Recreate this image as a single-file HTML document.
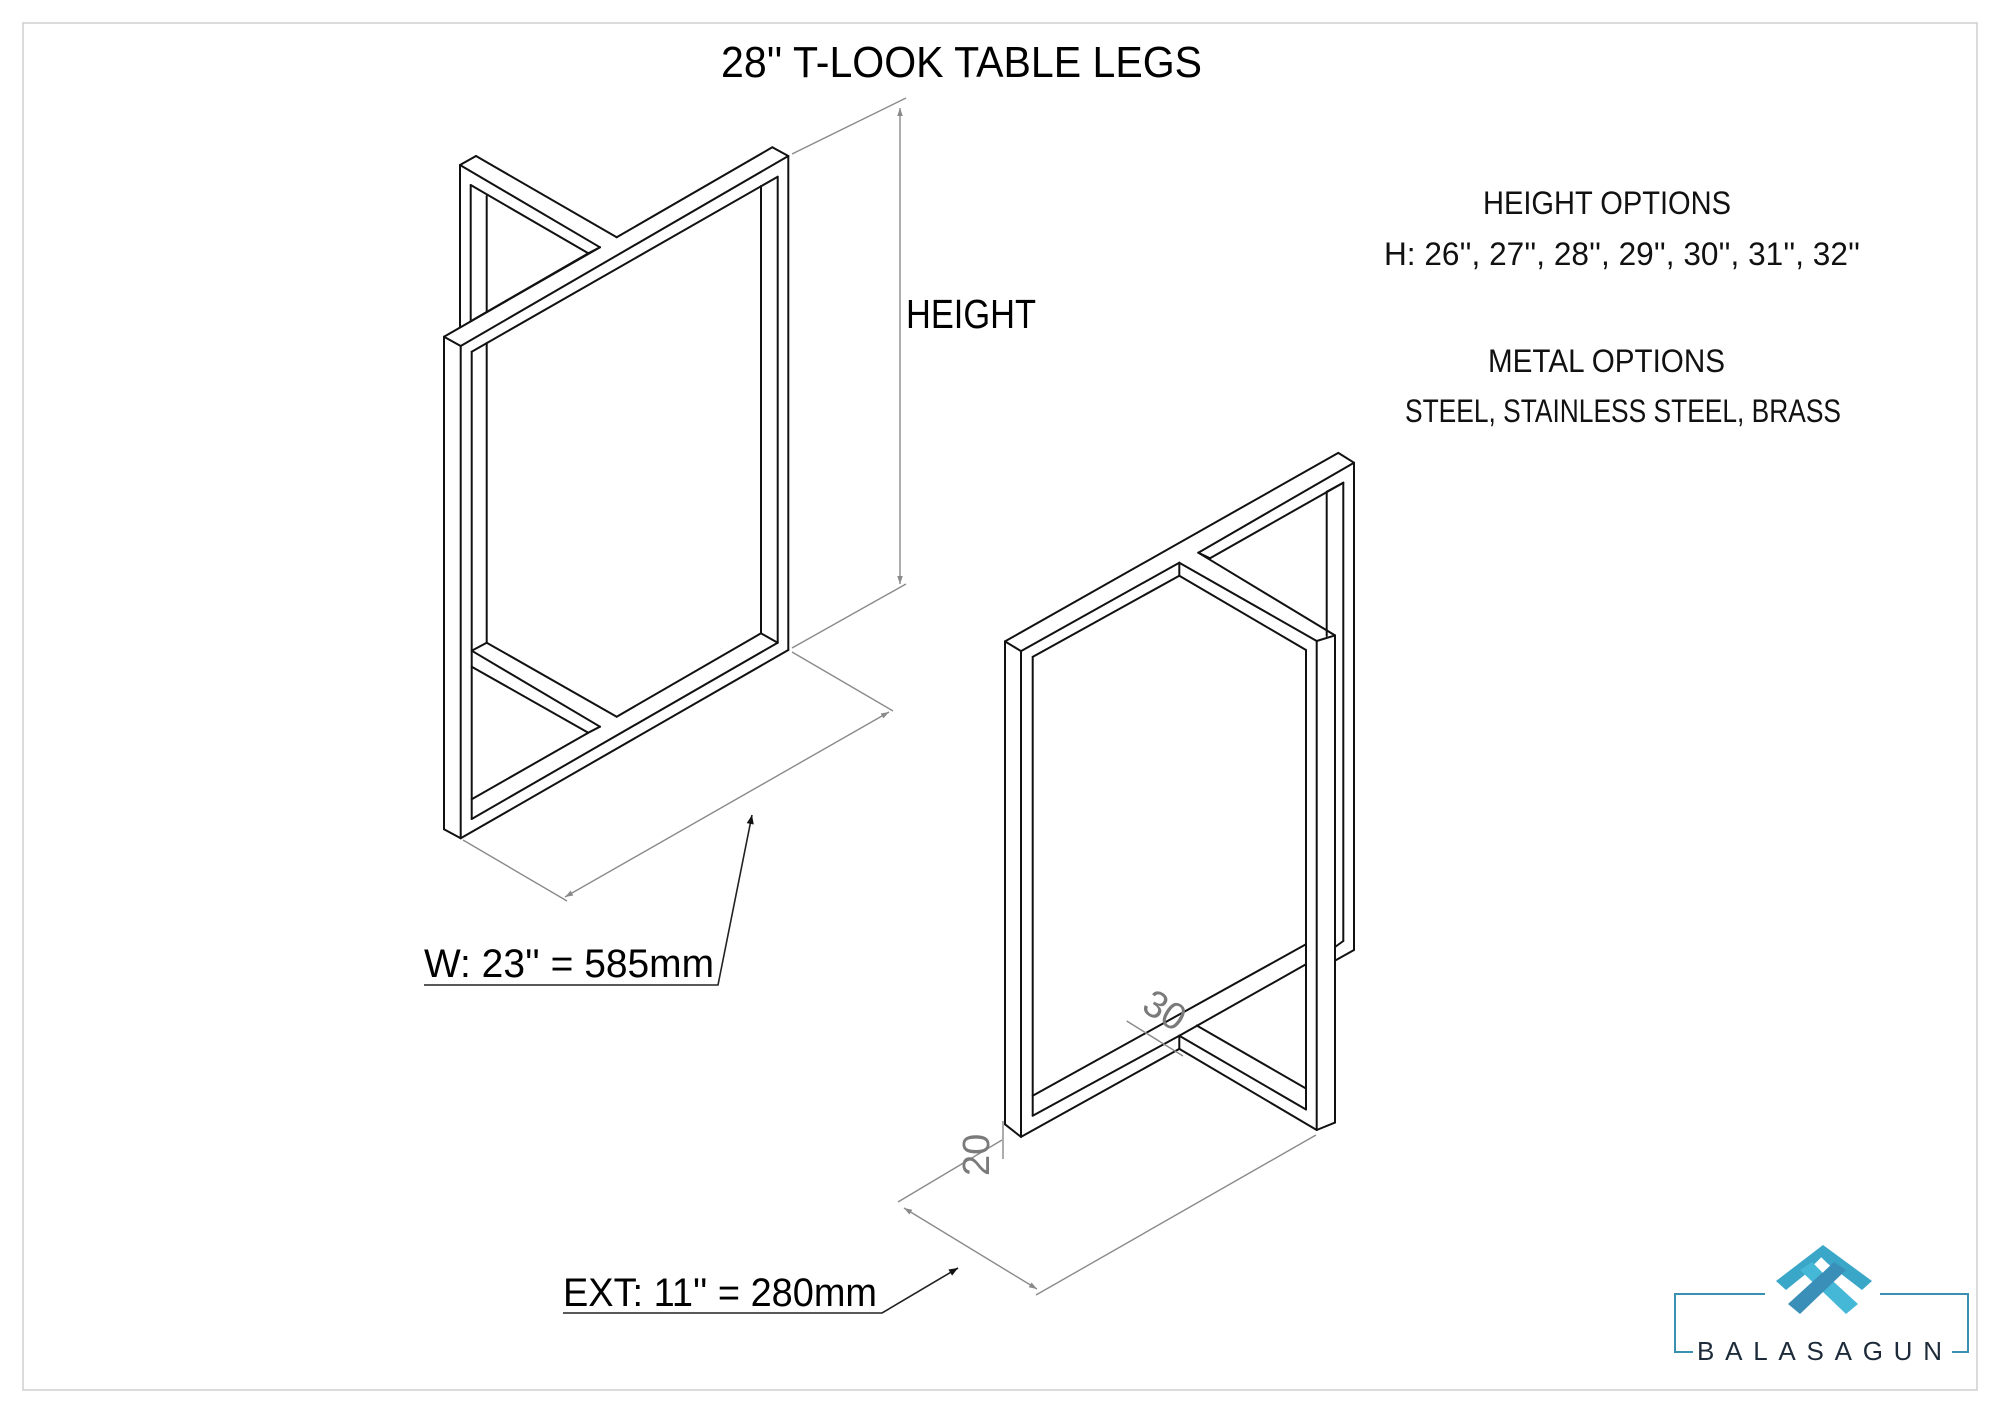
<!DOCTYPE html>
<html><head><meta charset="utf-8"><style>
html,body{margin:0;padding:0;background:#fff}
svg{display:block}
text{font-family:"Liberation Sans",sans-serif}
</style></head><body>
<svg width="2000" height="1414" viewBox="0 0 2000 1414" xmlns="http://www.w3.org/2000/svg">
<defs>
<marker id="ag" viewBox="0 0 10 10" refX="10" refY="5" markerWidth="14" markerHeight="8" markerUnits="userSpaceOnUse" orient="auto-start-reverse"><path d="M0,1.5 L10,5 L0,8.5 z" fill="#8a8a8a"/></marker>
<marker id="ak" viewBox="0 0 10 10" refX="10" refY="5" markerWidth="16" markerHeight="9" markerUnits="userSpaceOnUse" orient="auto"><path d="M0,1 L10,5 L0,9 z" fill="#111"/></marker>
</defs>
<rect x="23" y="23" width="1954" height="1367" fill="none" stroke="#cfcfcf" stroke-width="1.5"/>

<text x="721" y="77" font-size="44" textLength="481" lengthAdjust="spacingAndGlyphs">28'' T-LOOK TABLE LEGS</text>

<g font-size="32" fill="#111">
<text x="1483" y="214" textLength="248" lengthAdjust="spacingAndGlyphs">HEIGHT OPTIONS</text>
<text x="1384" y="265" textLength="476" lengthAdjust="spacingAndGlyphs">H: 26'', 27'', 28'', 29'', 30'', 31'', 32''</text>
<text x="1488" y="372" textLength="237" lengthAdjust="spacingAndGlyphs">METAL OPTIONS</text>
<text x="1405" y="422" textLength="436" lengthAdjust="spacingAndGlyphs">STEEL, STAINLESS STEEL, BRASS</text>
</g>
<text x="906" y="328" font-size="41" textLength="130" lengthAdjust="spacingAndGlyphs">HEIGHT</text>

<!-- LEG 1 -->
<g stroke="#111" stroke-width="2" fill="none" stroke-linecap="round">
<line x1="444" y1="336.7" x2="600" y2="247.3"/><line x1="616.7" y1="237.3" x2="772.3" y2="147.3"/>
<line x1="444" y1="336.7" x2="460.7" y2="346"/><line x1="772.3" y1="147.3" x2="788.3" y2="156"/>
<line x1="460.7" y1="346" x2="788.3" y2="156"/>
<line x1="471.7" y1="351.7" x2="777.7" y2="176.7"/>
<line x1="444" y1="336.7" x2="444" y2="829.3"/>
<line x1="460.7" y1="346" x2="460.7" y2="838.3"/>
<line x1="471.7" y1="351.7" x2="471.7" y2="819"/>
<line x1="486.7" y1="343" x2="486.7" y2="642.7"/>
<line x1="761" y1="186" x2="761" y2="633.3"/>
<line x1="777.7" y1="176.7" x2="777.7" y2="642.7"/>
<line x1="788.3" y1="156" x2="788.3" y2="650"/>
<line x1="444" y1="829.3" x2="460.7" y2="838.3"/>
<line x1="460.7" y1="838.3" x2="788.3" y2="650"/>
<line x1="471.7" y1="819" x2="777.7" y2="642.7"/>
<line x1="761" y1="633.3" x2="777.7" y2="642.7"/>
<line x1="486.7" y1="642.7" x2="616.7" y2="716.7"/>
<line x1="616.7" y1="716.7" x2="761" y2="633.3"/>
<line x1="471.7" y1="650.7" x2="486.7" y2="642.7"/>
<line x1="471.7" y1="650.7" x2="600" y2="726.7"/>
<line x1="471.7" y1="666.7" x2="588.3" y2="732.7"/>
<line x1="600" y1="726.7" x2="588.3" y2="732.7"/>
<line x1="588.3" y1="732.7" x2="471.7" y2="799.3"/>
<!-- back frame -->
<line x1="460" y1="165" x2="476" y2="156"/>
<line x1="476" y1="156" x2="616.7" y2="237.3"/>
<line x1="460" y1="165" x2="600" y2="247.3"/>
<line x1="470.7" y1="185" x2="588.3" y2="253.3"/>
<line x1="600" y1="247.3" x2="588.3" y2="253.3"/>
<line x1="588.3" y1="253.3" x2="470.7" y2="321.2"/>
<line x1="460" y1="165" x2="460" y2="327"/>
<line x1="470.7" y1="185" x2="470.7" y2="321.2"/>
<line x1="486.7" y1="196" x2="486.7" y2="311.7"/>
</g>

<!-- LEG 2 -->
<g stroke="#111" stroke-width="2" fill="none" stroke-linecap="round">
<line x1="1005" y1="641.4" x2="1338.3" y2="452.9"/>
<line x1="1021" y1="651.1" x2="1179.3" y2="562.7"/>
<line x1="1198.3" y1="552.7" x2="1354" y2="462.7"/>
<line x1="1005" y1="641.4" x2="1021" y2="651.1"/>
<line x1="1338.3" y1="452.9" x2="1354" y2="462.7"/>
<line x1="1032.7" y1="656.9" x2="1179.3" y2="575.7"/>
<line x1="1210" y1="558.3" x2="1343.3" y2="482.7"/>
<line x1="1198.3" y1="552.7" x2="1210" y2="558.3"/>
<line x1="1179.3" y1="562.7" x2="1179.3" y2="575.7"/>
<line x1="1179.3" y1="562.7" x2="1316.7" y2="641"/>
<line x1="1198.3" y1="552.7" x2="1335" y2="635.4"/>
<line x1="1316.7" y1="641" x2="1335" y2="635.4"/>
<line x1="1179.3" y1="575.7" x2="1306" y2="650"/>
<line x1="1005" y1="641.4" x2="1005" y2="1124.3"/>
<line x1="1021" y1="651.1" x2="1021" y2="1136.9"/>
<line x1="1032.7" y1="656.9" x2="1032.7" y2="1115.7"/>
<line x1="1306" y1="650" x2="1306" y2="1109.5"/>
<line x1="1316.7" y1="641" x2="1316.7" y2="1130"/>
<line x1="1335" y1="635.4" x2="1335" y2="1122.6"/>
<line x1="1326.7" y1="491.7" x2="1326.7" y2="636"/>
<line x1="1343.3" y1="482.7" x2="1326.7" y2="491.7"/>
<line x1="1343.3" y1="482.7" x2="1343.3" y2="941"/>
<line x1="1354" y1="462.7" x2="1354" y2="950"/>
<line x1="1005" y1="1124.3" x2="1021" y2="1136.9"/>
<line x1="1021" y1="1136.9" x2="1179.3" y2="1048.9"/>
<line x1="1032.7" y1="1115.7" x2="1179.3" y2="1035.7"/>
<line x1="1179.3" y1="1035.7" x2="1306" y2="964.3"/>
<line x1="1032.7" y1="1095.7" x2="1306" y2="944.3"/>
<line x1="1179.3" y1="1035.7" x2="1179.3" y2="1048.9"/>
<line x1="1179.3" y1="1035.7" x2="1306" y2="1109.5"/>
<line x1="1179.3" y1="1048.9" x2="1316.7" y2="1130"/>
<line x1="1196.7" y1="1025.5" x2="1306" y2="1088.5"/>
<line x1="1316.7" y1="1130" x2="1335" y2="1122.6"/>
<line x1="1335" y1="960.6" x2="1354" y2="950"/>
<line x1="1335" y1="947" x2="1343.3" y2="941"/>
</g>

<!-- dimensions -->
<g stroke="#8a8a8a" stroke-width="1.4" fill="none">
<line x1="792" y1="154" x2="906" y2="98"/>
<line x1="792" y1="648" x2="906" y2="584"/>
<line x1="900" y1="108" x2="900" y2="584" marker-start="url(#ag)" marker-end="url(#ag)"/>
<line x1="792" y1="652" x2="893" y2="711"/>
<line x1="463" y1="840" x2="567" y2="901"/>
<line x1="565" y1="897" x2="889" y2="712" marker-start="url(#ag)" marker-end="url(#ag)"/>
<line x1="1002" y1="1140" x2="898" y2="1202"/>
<line x1="1316" y1="1135" x2="1036" y2="1295"/>
<line x1="904" y1="1208" x2="1037" y2="1289" marker-start="url(#ag)" marker-end="url(#ag)"/>
<line x1="1003" y1="1121" x2="1003" y2="1159"/>
<line x1="1126.7" y1="1021" x2="1183" y2="1056"/>
</g>
<text transform="translate(989,1176) rotate(-90)" font-size="38" fill="#7a7a7a">20</text>
<text transform="translate(1140,1010) rotate(32)" font-size="38" fill="#7a7a7a">30</text>

<!-- leaders -->
<g stroke="#222" stroke-width="1.6" fill="none">
<polyline points="424,985 718,985 752,815" marker-end="url(#ak)"/>
<polyline points="563,1313 882,1313 958,1268" marker-end="url(#ak)"/>
</g>
<text x="424" y="977" font-size="40" textLength="290" lengthAdjust="spacingAndGlyphs">W: 23'' = 585mm</text>
<text x="563" y="1306" font-size="40" textLength="314" lengthAdjust="spacingAndGlyphs">EXT: 11'' = 280mm</text>

<!-- logo -->
<g>
<polyline points="1765,1294 1675,1294 1675,1352 1693,1352" fill="none" stroke="#3a90b0" stroke-width="2"/>
<polyline points="1880,1294 1968,1294 1968,1352 1952,1352" fill="none" stroke="#3a90b0" stroke-width="2"/>
<polygon points="1776,1281 1823,1245 1872,1281 1862,1290 1823,1260 1786,1290" fill="#3aa6c8"/>
<polygon points="1800,1270 1812,1262 1858,1304 1846,1314" fill="#45b8d8"/>
<polygon points="1846,1270 1834,1262 1788,1304 1800,1314" fill="#3a8fb8"/>
<rect x="1816" y="1260" width="12" height="10" fill="#fff" transform="rotate(45 1822 1265)"/>
<text x="1697" y="1360" font-size="26" fill="#1d2b3a" letter-spacing="7" textLength="252" lengthAdjust="spacing">BALASAGUN</text>
</g>
</svg>
</body></html>
